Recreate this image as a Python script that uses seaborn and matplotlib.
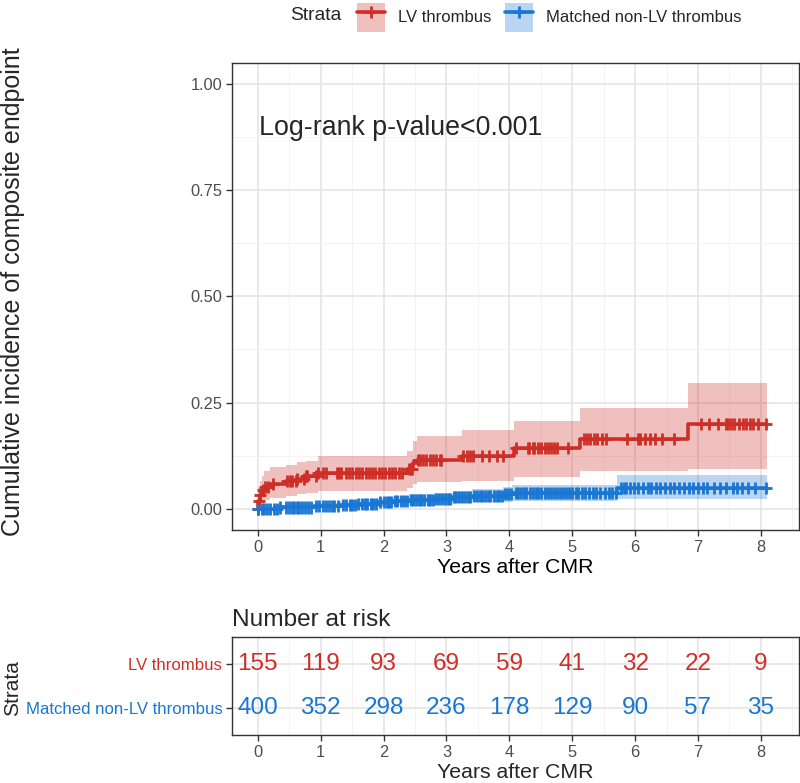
import numpy as np
import pandas as pd
import matplotlib
matplotlib.use("Agg")
import matplotlib.pyplot as plt
import seaborn as sns
from matplotlib.patches import Patch
from matplotlib.lines import Line2D
from matplotlib.ticker import MultipleLocator

# ---- data ----
groups = ["LV thrombus", "Matched non-LV thrombus"]
colors = {"LV thrombus": "#CD2F27", "Matched non-LV thrombus": "#1976D2"}
end_time = 8.09

# LV thrombus: step times, cumulative incidence, 95% CI
red_time = [0, 0.01, 0.03, 0.06, 0.10, 0.20, 0.45, 0.63, 0.76, 0.95, 2.37, 2.47, 2.53, 3.24, 4.08, 5.12, 6.84]
red_est = [0, 0.019, 0.032, 0.045, 0.052, 0.058, 0.065, 0.071, 0.076, 0.085, 0.094, 0.107, 0.115, 0.125, 0.143, 0.165, 0.200]
red_lower = [0, 0.003, 0.008, 0.016, 0.021, 0.026, 0.030, 0.034, 0.037, 0.042, 0.049, 0.058, 0.063, 0.066, 0.075, 0.089, 0.094]
red_upper = [0, 0.050, 0.065, 0.078, 0.088, 0.098, 0.104, 0.110, 0.113, 0.125, 0.137, 0.160, 0.172, 0.186, 0.206, 0.236, 0.295]
red_cens = [0.0, 0.02, 0.04, 0.08, 0.12, 0.17, 0.24, 0.47, 0.52, 0.55, 0.60, 0.63, 0.74, 0.77, 0.79,
            0.92, 0.95, 1.03, 1.08, 1.26, 1.29, 1.32, 1.40, 1.45, 1.50, 1.56, 1.61, 1.66, 1.72, 1.77,
            1.82, 1.87, 1.93, 1.98, 2.03, 2.09, 2.14, 2.19, 2.25, 2.30, 2.40, 2.43, 2.46, 2.55, 2.58,
            2.63, 2.68, 2.74, 2.79, 2.84, 2.89, 2.92, 3.27, 3.32, 3.37, 3.42, 3.56, 3.67, 3.80, 3.90,
            4.10, 4.29, 4.32, 4.37, 4.40, 4.45, 4.50, 4.56, 4.61, 4.66, 4.71, 4.76, 4.93, 5.19, 5.24,
            5.29, 5.35, 5.40, 5.48, 5.53, 5.87, 6.05, 6.08, 6.16, 6.24, 6.32, 6.43, 6.62, 7.05, 7.18,
            7.32, 7.45, 7.48, 7.53, 7.58, 7.66, 7.72, 7.77, 7.82, 7.88, 7.96, 8.08]

# Matched non-LV thrombus
blue_time = [0, 0.35, 0.90, 1.30, 1.60, 1.90, 2.15, 2.40, 2.80, 3.10, 3.40, 3.90, 4.05, 5.72]
blue_est = [0, 0.003, 0.006, 0.009, 0.012, 0.015, 0.018, 0.021, 0.024, 0.027, 0.030, 0.034, 0.038, 0.050]
blue_lower = [0, 0.0, 0.001, 0.002, 0.004, 0.005, 0.007, 0.009, 0.011, 0.013, 0.015, 0.017, 0.018, 0.022]
blue_upper = [0, 0.009, 0.014, 0.018, 0.022, 0.026, 0.030, 0.034, 0.038, 0.042, 0.046, 0.051, 0.057, 0.080]
blue_cens = [0.00, 0.06, 0.10, 0.14, 0.19, 0.25, 0.30, 0.36, 0.45, 0.49, 0.55, 0.58, 0.63, 0.66, 0.70,
             0.75, 0.80, 0.84, 0.92, 0.97, 1.03, 1.08, 1.13, 1.18, 1.22, 1.27, 1.35, 1.40, 1.46, 1.50,
             1.55, 1.60, 1.66, 1.71, 1.74, 1.80, 1.84, 1.88, 1.95, 2.00, 2.05, 2.08, 2.12, 2.18, 2.22,
             2.27, 2.33, 2.37, 2.43, 2.47, 2.52, 2.56, 2.60, 2.65, 2.70, 2.74, 2.78, 2.84, 2.88, 2.93,
             2.97, 3.02, 3.06, 3.12, 3.16, 3.20, 3.25, 3.29, 3.34, 3.38, 3.44, 3.48, 3.53, 3.57, 3.61,
             3.66, 3.70, 3.75, 3.80, 3.84, 3.88, 3.93, 3.98, 4.02, 4.10, 4.14, 4.18, 4.23, 4.27, 4.33,
             4.37, 4.42, 4.46, 4.50, 4.56, 4.62, 4.66, 4.71, 4.76, 4.80, 4.86, 4.90, 4.95, 5.00, 5.06,
             5.10, 5.15, 5.21, 5.27, 5.33, 5.38, 5.45, 5.52, 5.58, 5.63, 5.69, 5.77, 5.82, 5.86, 5.92,
             5.98, 6.05, 6.12, 6.20, 6.26, 6.33, 6.40, 6.47, 6.55, 6.62, 6.70, 6.78, 6.85, 6.92, 7.00,
             7.08, 7.15, 7.25, 7.35, 7.45, 7.55, 7.62, 7.70, 7.80, 7.90, 8.08]

# number at risk table
risk_times = [0, 1, 2, 3, 4, 5, 6, 7, 8]
risk_lv = [155, 119, 93, 69, 59, 41, 32, 22, 9]
risk_ctrl = [400, 352, 298, 236, 178, 129, 90, 57, 35]

curves = {
    "LV thrombus": (red_time, red_est, red_lower, red_upper, red_cens),
    "Matched non-LV thrombus": (blue_time, blue_est, blue_lower, blue_upper, blue_cens),
}

# ---- build tables ----
rows, cens_rows = [], []
for g, (t, e, lo, hi, c) in curves.items():
    tt = list(t) + [end_time]
    ee = list(e) + [e[-1]]
    ll = list(lo) + [lo[-1]]
    hh = list(hi) + [hi[-1]]
    for a, b, l, h in zip(tt, ee, ll, hh):
        rows.append({"group": g, "time": a, "est": b, "lower": l, "upper": h})
    idx = np.searchsorted(np.array(t), np.array(c), side="right") - 1
    for ct, i in zip(c, idx):
        cens_rows.append({"group": g, "time": ct, "est": e[i]})
curve_df = pd.DataFrame(rows)
cens_df = pd.DataFrame(cens_rows)

# ---- theme ----
sns.set_theme(style="whitegrid")
plt.rcParams['font.family'] = ['Liberation Sans', 'DejaVu Sans']


def style_bw(a):
    a.set_facecolor("white")
    for s in a.spines.values():
        s.set_visible(True)
        s.set_color("#333333")
        s.set_linewidth(1.0)
    a.grid(True, which="major", color="#E3E3E3", lw=1.1)
    a.grid(True, which="minor", color="#F1F1F1", lw=0.6)
    a.tick_params(which="major", direction="out", length=4, width=1.0, color="#333333",
                  labelsize=11.8, labelcolor="#4D4D4D", left=True, bottom=True, pad=3)
    a.tick_params(which="minor", length=0)
    a.set_axisbelow(True)


fig = plt.figure(figsize=(8, 7.83), dpi=100)
ax = fig.add_axes([0.29, 0.3231, 0.709, 0.597])
ax2 = fig.add_axes([0.29, 0.0613, 0.709, 0.125])

# ---- main curves ----
for g in groups:
    sub = curve_df[curve_df.group == g]
    ax.fill_between(sub.time, sub.lower, sub.upper, step="post", color=colors[g],
                    alpha=0.3, lw=0)
sns.lineplot(data=curve_df, x="time", y="est", hue="group", palette=colors,
             drawstyle="steps-post", estimator=None, sort=False, lw=2.6,
             legend=False, ax=ax)
sns.scatterplot(data=cens_df, x="time", y="est", hue="group", palette=colors,
                marker="+", s=75, linewidth=2, legend=False, ax=ax, zorder=3)

ax.set_xlim(-0.41, 8.61)
ax.set_ylim(-0.05, 1.05)
ax.xaxis.set_major_locator(MultipleLocator(1))
ax.xaxis.set_minor_locator(MultipleLocator(0.5))
ax.set_yticks([0, 0.25, 0.5, 0.75, 1.0])
ax.set_yticklabels(["0.00", "0.25", "0.50", "0.75", "1.00"])
ax.yaxis.set_minor_locator(MultipleLocator(0.125))
style_bw(ax)
ax.set_xlabel("Years after CMR", fontsize=15.3, labelpad=2, color="black")
ax.set_ylabel("")
ax.text(0.02, 0.895, "Log-rank p-value<0.001", fontsize=19.3, va="center", ha="left")

fig.text(0.016, 1 - 292 / 783, "Cumulative incidence of composite endpoint",
         rotation=90, va="center", ha="center", fontsize=18)

# ---- legend ----
handles = [(Patch(facecolor=colors[g], alpha=0.3, edgecolor="none"),
            Line2D([], [], color=colors[g], lw=2.6, marker="+", ms=9, mew=2)) for g in groups]
fig.legend(handles=handles, labels=groups, ncol=2, loc="center left",
           bbox_to_anchor=(357 / 800, 1 - 17 / 783), frameon=False, handlelength=1.68,
           handleheight=2.3, fontsize=12, columnspacing=0.8, handletextpad=0.78,
           borderaxespad=0, borderpad=0)
fig.text(290 / 800, 1 - 16 / 783, "Strata", fontsize=13.9, va="center", ha="left")

# ---- risk table ----
for g, vals, row in [(groups[0], risk_lv, 1), (groups[1], risk_ctrl, 2)]:
    for t, v in zip(risk_times, vals):
        ax2.text(t, row, str(v), ha="center", va="center", fontsize=17.5, color=colors[g])
ax2.set_xlim(-0.41, 8.61)
ax2.set_ylim(2.6, 0.4)
ax2.set_yticks([1, 2])
ax2.set_yticklabels(groups)
ax2.xaxis.set_major_locator(MultipleLocator(1))
ax2.xaxis.set_minor_locator(MultipleLocator(0.5))
style_bw(ax2)
ax2.tick_params(axis="y", labelsize=12.1)
for lab, g in zip(ax2.get_yticklabels(), groups):
    lab.set_color(colors[g])
ax2.set_xlabel("Years after CMR", fontsize=15.3, labelpad=2)
ax2.set_title("Number at risk", loc="left", fontsize=17.6, pad=8)
fig.text(0.016, 1 - 688 / 783, "Strata", rotation=90, va="center", ha="center", fontsize=15)

fig.savefig("out.png", dpi=100)
